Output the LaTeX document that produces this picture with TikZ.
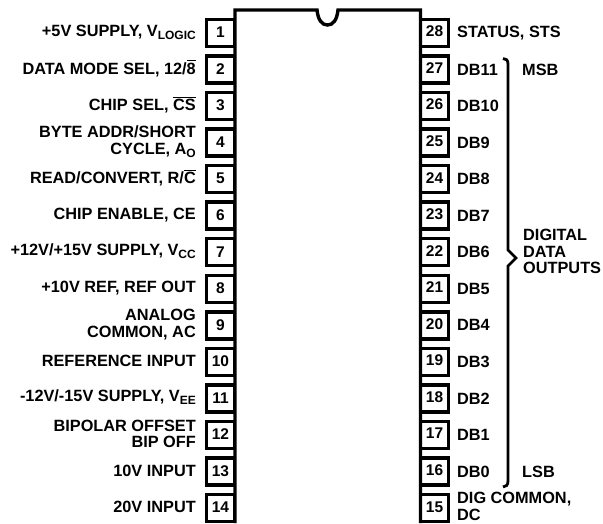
\documentclass[tikz,border=0pt]{standalone}
\usepackage{fontspec}
\setmainfont{Liberation Sans}
\newcommand{\lowsub}[1]{\raisebox{-3.2pt}{\fontsize{12}{12}\selectfont #1}}
\newcommand{\barred}[1]{\leavevmode\setbox0=\hbox{#1}\rlap{\rule[12.6pt]{\wd0}{1pt}}\box0}
\tikzset{
  pinbox/.style={draw=black,line width=3.5pt,fill=white,minimum width=28pt,minimum height=27pt,inner sep=0pt,outer sep=0pt},
  pinnum/.style={inner sep=0pt,font=\fontsize{15.5}{16}\selectfont\bfseries},
  leftlabel/.style={anchor=east,align=right,inner sep=0pt,font=\fontsize{16.3}{16.8}\selectfont\bfseries},
  rightlabel/.style={anchor=west,align=left,inner sep=0pt,font=\fontsize{16.3}{16.8}\selectfont\bfseries},
  bodyline/.style={line width=3.4pt,draw=black},
  brace/.style={line width=2.8pt,draw=black,line join=miter}
}
\begin{document}
\begin{tikzpicture}[x=1pt,y=-1pt]
\useasboundingbox (0,0) rectangle (603,523);
\fill[white] (0,0) rectangle (603,523);
\foreach \n/\t in {
 1/{+5V SUPPLY, V\lowsub{LOGIC}},
 2/{DATA MODE SEL, 12/\barred{8}},
 3/{CHIP SEL, \barred{CS}},
 4/{BYTE ADDR/SHORT\\CYCLE, A\lowsub{O}},
 5/{READ/CONVERT, R/\barred{C}},
 6/{CHIP ENABLE, CE},
 7/{+12V/+15V SUPPLY, V\lowsub{CC}},
 8/{+10V REF, REF OUT},
 9/{ANALOG\\COMMON, AC},
 10/{REFERENCE INPUT},
 11/{-12V/-15V SUPPLY, V\lowsub{EE}},
 12/{BIPOLAR OFFSET\\BIP OFF},
 13/{10V INPUT},
 14/{20V INPUT}}{
  \pgfmathsetmacro{\yy}{33+36.54*(\n-1)}
  \node[pinbox] (pin\n) at (220.5,\yy) {};
  \node[pinnum] (num\n) at (220.5,\yy-0.5) {\n};
  \node[leftlabel] (lab\n) at (196,\yy-1) {\t};
}
\foreach \n/\t in {
 28/{STATUS, STS},
 27/{DB11},
 26/{DB10},
 25/{DB9},
 24/{DB8},
 23/{DB7},
 22/{DB6},
 21/{DB5},
 20/{DB4},
 19/{DB3},
 18/{DB2},
 17/{DB1},
 16/{DB0}}{
  \pgfmathsetmacro{\yy}{33+36.54*(28-\n)}
  \node[pinbox] (pin\n) at (434.5,\yy) {};
  \node[pinnum] (num\n) at (434.5,\yy-1.5) {\n};
  \node[rightlabel] (lab\n) at (457,\yy) {\t};
}
\node[pinbox] (pin15) at (434.5,508) {};
\node[pinnum] (num15) at (434.5,507) {15};
\node[rightlabel] (lab15) at (457,506.5) {DIG COMMON,\\DC};
\draw[bodyline] (235,523) -- (235,10) -- (317,10)
  .. controls (318,20) and (322,25) .. (327.5,25)
  .. controls (333,25) and (337,20) .. (338,10)
  -- (420.5,10) -- (420.5,523);
\draw[brace] (503,58.5) .. controls (506,58.5) and (508,60) .. (508,64)
  -- (508,250) -- (516,258) -- (508,266) -- (508,481)
  .. controls (508,485) and (506,487) .. (503,487);
\node[rightlabel] (msb) at (522,70) {MSB};
\node[rightlabel] (lsb) at (522,472) {LSB};
\node[rightlabel,font=\fontsize{16.3}{16.3}\selectfont\bfseries] (ddo) at (523,251.5) {DIGITAL\\DATA\\OUTPUTS};
\end{tikzpicture}
\end{document}
